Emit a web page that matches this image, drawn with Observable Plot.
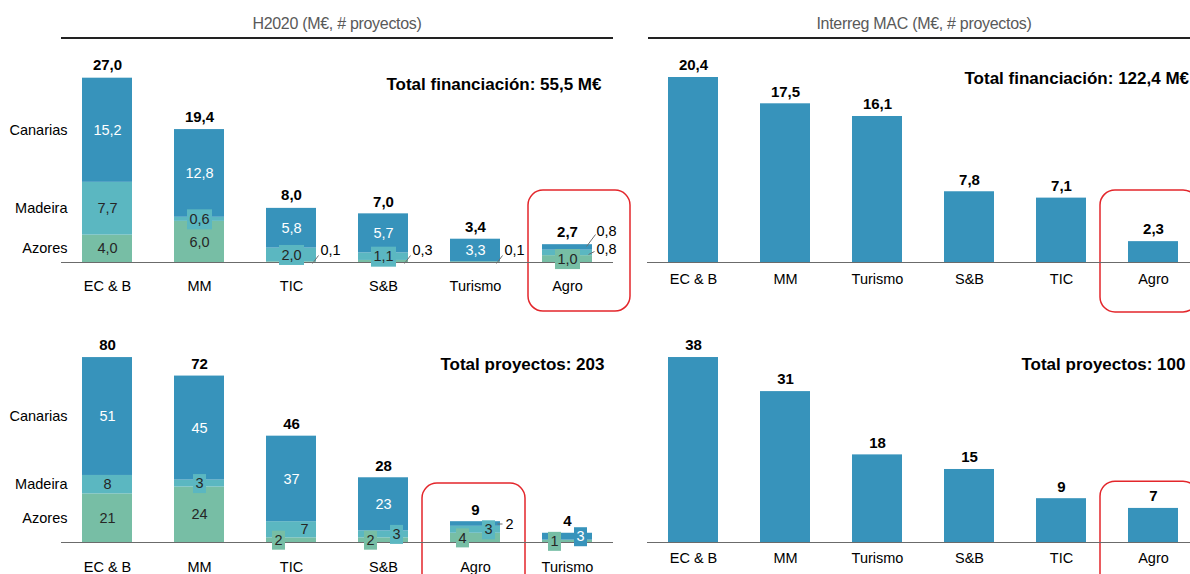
<!DOCTYPE html>
<html><head><meta charset="utf-8">
<script src="https://cdn.jsdelivr.net/npm/d3@7"></script>
<script src="https://cdn.jsdelivr.net/npm/@observablehq/plot@0.6"></script>
<style>
body{margin:0;background:#fff;}
#root{position:relative;width:1190px;height:574px;overflow:hidden;background:#fff;font-family:"Liberation Sans",Arial,sans-serif;}
.ttl{position:absolute;top:13px;height:22px;line-height:22px;text-align:center;font-size:16px;color:#595959;letter-spacing:-0.3px}
.rule{position:absolute;top:37px;height:2px;background:#222}
.panel{position:absolute}
.panel svg{max-width:none !important}
</style></head><body>
<div id="root">
<div class="ttl" style="left:61px;width:552px">H2020 (M€, # proyectos)</div>
<div class="rule" style="left:61px;width:552px"></div>
<div class="ttl" style="left:648px;width:552px">Interreg MAC (M€, # proyectos)</div>
<div class="rule" style="left:648px;width:552px"></div>
<div id="tl" class="panel" style="left:0;top:40px;width:640px"></div>
<div id="bl" class="panel" style="left:0;top:312px;width:640px"></div>
<div id="tr" class="panel" style="left:640px;top:40px;width:560px"></div>
<div id="br" class="panel" style="left:640px;top:312px;width:560px"></div>
</div>
<script>
// ---------------- DATA ----------------
const h2020FundCategories = ["EC & B", "MM", "TIC", "S&B", "Turismo", "Agro"];
const h2020FundCanarias = [15.2, 12.8, 5.8, 5.7, 3.3, 0.8];
const h2020FundMadeira  = [7.7, 0.6, 2.0, 1.1, 0, 0.8];
const h2020FundAzores   = [4.0, 6.0, 0.1, 0.3, 0.1, 1.0];
const h2020FundTotals   = [27.0, 19.4, 8.0, 7.0, 3.4, 2.7];
const h2020FundHeadline = "Total financiación: 55,5 M€";

const h2020ProjCategories = ["EC & B", "MM", "TIC", "S&B", "Agro", "Turismo"];
const h2020ProjCanarias = [51, 45, 37, 23, 2, 3];
const h2020ProjMadeira  = [8, 3, 7, 3, 3, 0];
const h2020ProjAzores   = [21, 24, 2, 2, 4, 1];
const h2020ProjTotals   = [80, 72, 46, 28, 9, 4];
const h2020ProjHeadline = "Total proyectos: 203";

const macCategories = ["EC & B", "MM", "Turismo", "S&B", "TIC", "Agro"];
const macFunding  = [20.4, 17.5, 16.1, 7.8, 7.1, 2.3];
const macProjects = [38, 31, 18, 15, 9, 7];
const macFundHeadline = "Total financiación: 122,4 M€";
const macProjHeadline = "Total proyectos: 100";

const regions = ["Azores", "Madeira", "Canarias"]; // bottom -> top
const highlighted = ["Agro"];

// ---------------- STYLE ----------------
const regionColors = ["#77bea5", "#5bb7c1", "#3793bb"];
const barBlue = "#3793bb";
const red = "#e3262b";
const dark = "#262626";
const font = '"Liberation Sans", Arial, sans-serif';
const fmt1 = v => d3.format(".1f")(v).replace(".", ",");
const fmt0 = v => String(v);

function stackRows(cats, canarias, madeira, azores) {
  const series = {Azores: azores, Madeira: madeira, Canarias: canarias};
  const rows = [];
  cats.forEach((cat, i) => {
    let c = 0;
    for (const r of regions) {
      const v = series[r][i];
      rows.push({cat, i, region: r, value: v, y1: c, y2: c + v, mid: c + v / 2});
      c += v;
    }
  });
  return rows;
}
const boxSym = (w, h) => ({draw(c) { c.rect(-w / 2, -h / 2, w, h); }});
const segSym = (x1, y1, x2, y2) => ({draw(c) { c.moveTo(x1, y1); c.lineTo(x2, y2); }});

function labelMarks(rows, modes, fmt, cfg) {
  const out = [];
  const sel = m => rows.filter(d => modes[d.region][d.i] === m);
  for (const [m, dx] of [["box", 0], ["boxL", -cfg.shift], ["boxR", cfg.shift]]) {
    out.push(Plot.dot(sel(m), {x: "cat", y: "mid", fill: "region", stroke: "none", symbol: boxSym(cfg.boxW, cfg.boxH), dx}));
  }
  for (const [m, dx] of [["in", 0], ["box", 0], ["boxL", -cfg.shift], ["boxR", cfg.shift], ["textR", cfg.shift]]) {
    const data = sel(m);
    out.push(Plot.text(data.filter(d => d.region === "Canarias"), {x: "cat", y: "mid", text: d => fmt(d.value), fill: "#fff", dx, fontSize: 14.5}));
    out.push(Plot.text(data.filter(d => d.region !== "Canarias"), {x: "cat", y: "mid", text: d => fmt(d.value), fill: dark, dx, fontSize: 14.5}));
  }
  for (const L of cfg.leaders) {
    const data = sel(L.mode);
    const yAcc = L.atMid ? "mid" : () => 0;
    out.push(Plot.dot(data, {x: "cat", y: yAcc, symbol: segSym(...L.seg), stroke: "#6e6e6e", fill: "none", strokeWidth: 1}));
    out.push(Plot.text(data, {x: "cat", y: yAcc, text: d => fmt(d.value), textAnchor: "start", dx: L.dx, dy: L.dy, fill: "#000", fontSize: 14.5}));
  }
  return out;
}

const baseStyle = {fontFamily: font, fontSize: "14.5px", color: "#000", background: "transparent", overflow: "visible", maxWidth: "none"};

function stackedPanel(o) {
  const rows = stackRows(o.cats, o.canarias, o.madeira, o.azores);
  const totals = o.cats.map((cat, i) => ({cat, v: o.totals[i]}));
  const first = rows.filter(d => d.i === 0);
  return Plot.plot({
    width: 640, height: o.height, marginLeft: 61, marginRight: 27, marginTop: 0, marginBottom: o.marginBottom,
    x: {domain: o.cats, paddingInner: 0.457, paddingOuter: 0.2285, tickSize: 0, tickPadding: o.tickPadding, label: null},
    y: {domain: [0, o.yMax], axis: null},
    color: {domain: ["Azores", "Madeira", "Canarias"], range: regionColors},
    style: baseStyle,
    marks: [
      Plot.barY(rows.filter(d => d.value > 0), {x: "cat", y1: "y1", y2: "y2", fill: "region"}),
      Plot.barY(highlighted, {x: d => d, y1: () => o.hl[0], y2: () => o.hl[1], fill: "none", stroke: red, strokeWidth: 1.5, rx: 15, insetLeft: o.hl[2], insetRight: o.hl[3]}),
      Plot.ruleY([0], {stroke: "#6b6b6b", strokeWidth: 1.2}),
      ...labelMarks(rows, o.modes, o.fmt, o.cfg),
      Plot.text(totals, {x: "cat", y: "v", text: d => o.fmt(d.v), dy: -12, fontWeight: "bold", fontSize: 15, fill: "#000"}),
      Plot.text(first, {x: "cat", y: "mid", text: "region", textAnchor: "end", dx: -40, fill: "#000", fontSize: 14.5}),
      Plot.text([o.headline], {frameAnchor: "top-right", text: d => d, textAnchor: "end", dx: o.hd[0], dy: o.hd[1], fontWeight: "bold", fontSize: 17, fill: "#000"})
    ]
  });
}

function simplePanel(o) {
  const data = o.cats.map((cat, i) => ({cat, v: o.values[i]}));
  return Plot.plot({
    width: 560, height: o.height, marginLeft: 7, marginRight: 1, marginTop: 0, marginBottom: o.marginBottom,
    x: {domain: o.cats, paddingInner: 0.457, paddingOuter: 0.2285, tickSize: 0, tickPadding: o.tickPadding, label: null},
    y: {domain: [0, o.yMax], axis: null},
    style: baseStyle,
    marks: [
      Plot.barY(data, {x: "cat", y: "v", fill: barBlue}),
      Plot.barY(highlighted, {x: d => d, y1: () => o.hl[0], y2: () => o.hl[1], fill: "none", stroke: red, strokeWidth: 1.5, rx: 15, insetLeft: o.hl[2], insetRight: o.hl[3]}),
      Plot.ruleY([0], {stroke: "#6b6b6b", strokeWidth: 1.2}),
      Plot.text(data, {x: "cat", y: "v", text: d => o.fmt(d.v), dy: -12, fontWeight: "bold", fontSize: 15, fill: "#000"}),
      Plot.text([o.headline], {frameAnchor: o.hAnchor === "start" ? "top-left" : "top-right", text: d => d, textAnchor: o.hAnchor, dx: o.hd[0], dy: o.hd[1], fontWeight: "bold", fontSize: 17, fill: "#000"})
    ]
  });
}

// ---------------- PANELS ----------------
document.getElementById("tl").append(stackedPanel({
  cats: h2020FundCategories, canarias: h2020FundCanarias, madeira: h2020FundMadeira, azores: h2020FundAzores,
  totals: h2020FundTotals, fmt: fmt1, yMax: 32.4, height: 272, marginBottom: 50, tickPadding: 18,
  headline: h2020FundHeadline, hd: [-12, 37], hl: [-7.15, 10.5, -14, -38],
  modes: {
    Canarias: ["in", "in", "in", "in", "in", "leadUp"],
    Madeira:  ["in", "box", "box", "box", null, "leadMid"],
    Azores:   ["in", "in", "leadBase", "leadBase", "leadBase", "box"]
  },
  cfg: {shift: 0, boxW: 25, boxH: 20, leaders: [
    {mode: "leadBase", seg: [21, 1, 27, -7], dx: 29, dy: -12},
    {mode: "leadMid", seg: [21, -8, 27, -11], dx: 29, dy: -13},
    {mode: "leadUp", seg: [19, -16, 28, -28], dx: 29, dy: -31}
  ]}
}));

document.getElementById("bl").append(stackedPanel({
  cats: h2020ProjCategories, canarias: h2020ProjCanarias, madeira: h2020ProjMadeira, azores: h2020ProjAzores,
  totals: h2020ProjTotals, fmt: fmt0, yMax: 99.5, height: 262, marginBottom: 32, tickPadding: 19,
  headline: h2020ProjHeadline, hd: [-9, 45], hl: [-25, 25.5, -28, -25],
  modes: {
    Canarias: ["in", "in", "in", "in", "dash", "boxR"],
    Madeira:  ["in", "box", "textR", "boxR", "boxR", null],
    Azores:   ["in", "in", "boxL", "boxL", "boxL", "boxL"]
  },
  cfg: {shift: 13, boxW: 13, boxH: 19, leaders: [
    {mode: "dash", atMid: true, seg: [22, 0, 27, 0], dx: 30, dy: 0}
  ]}
}));

document.getElementById("tr").append(simplePanel({
  cats: macCategories, values: macFunding, fmt: fmt1, yMax: 24.48, height: 272, marginBottom: 50, tickPadding: 11,
  headline: macFundHeadline, hAnchor: "start", hd: [317, 31], hl: [-5.5, 7.94, -28, -20]
}));

document.getElementById("br").append(simplePanel({
  cats: macCategories, values: macProjects, fmt: fmt0, yMax: 47.25, height: 262, marginBottom: 32, tickPadding: 10,
  headline: macProjHeadline, hAnchor: "end", hd: [-14, 45], hl: [-15, 12.5, -28, -20]
}));
</script>
</body></html>
